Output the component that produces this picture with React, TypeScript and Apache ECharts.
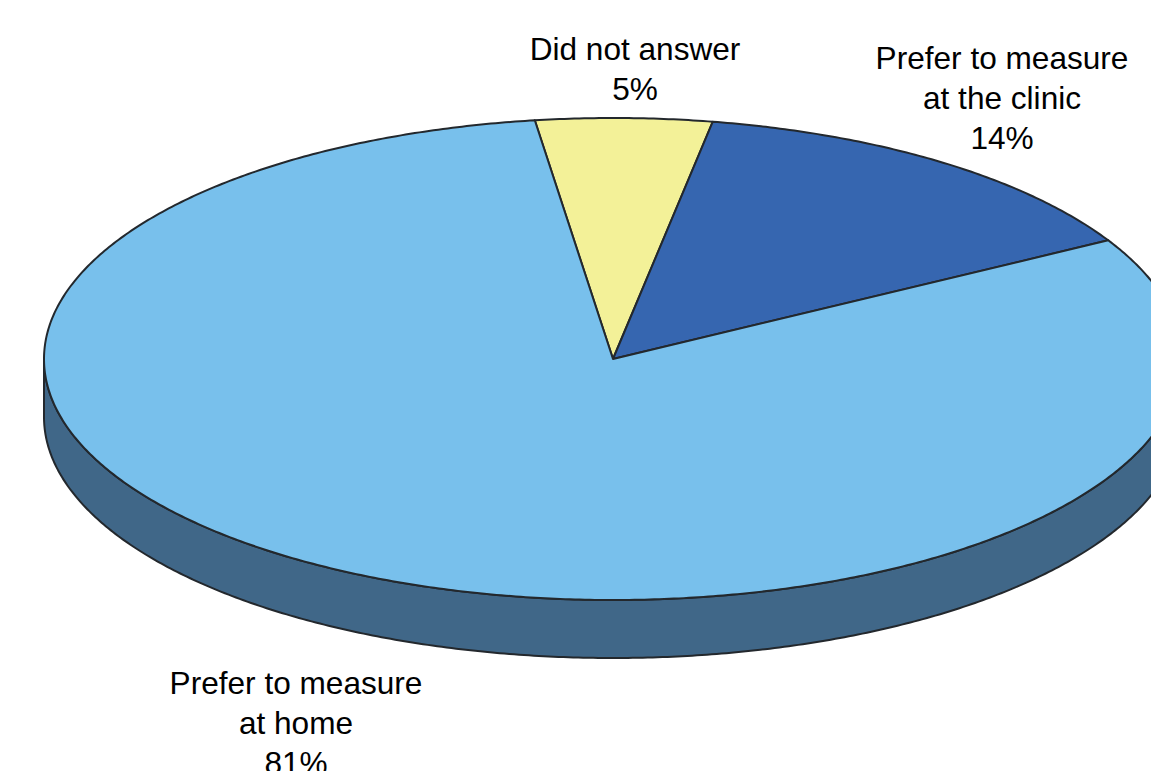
import React, { useEffect, useRef } from "react";
import * as echarts from "echarts";

const categories = ["Did not answer", "Prefer to measure at the clinic", "Prefer to measure at home"];
const sliceValues = [5, 14, 81];
const sliceColors = ["#f3f198", "#3666b0", "#78c0ec"];
const wallColor = "#406788";
const outlineColor = "#23282d";
const labelLines = ["Did not answer\n5%", "Prefer to measure\nat the clinic\n14%", "Prefer to measure\nat home\n81%"];
const labelCenters = [[635, 28.5], [1002, 37.5], [296, 662.5]];

const CX = 613;
const CY = 359;
const RX = 569;
const RY = 241;
const DEPTH = 58;
const START_DEG = -7.9;
const TOTAL = sliceValues.reduce((a, b) => a + b, 0);

const pointAt = (deg: number, dy = 0): number[] => {
  const r = (deg * Math.PI) / 180;
  return [CX + RX * Math.sin(r), CY - RY * Math.cos(r) + dy];
};

const arcPoints = (from: number, to: number, dy = 0): number[][] => {
  const n = Math.max(2, Math.ceil(Math.abs(to - from) * 2));
  const pts: number[][] = [];
  for (let i = 0; i <= n; i++) pts.push(pointAt(from + ((to - from) * i) / n, dy));
  return pts;
};

const sliceRange = (index: number): [number, number] => {
  const before = sliceValues.slice(0, index).reduce((a, b) => a + b, 0);
  const from = START_DEG + (before / TOTAL) * 360;
  return [from, from + (sliceValues[index] / TOTAL) * 360];
};

export default function App() {
  const ref = useRef<HTMLDivElement>(null);
  useEffect(() => {
    document.body.style.margin = "0";
    document.body.style.overflow = "hidden";
    const chart = echarts.init(ref.current!, null, { renderer: "svg" });
    const seriesData = sliceValues.map((value, i) => ({ value: [i, value], name: categories[i] }));
    chart.setOption({
      animation: false,
      backgroundColor: "#ffffff",
      tooltip: { show: false },
      series: [
        {
          type: "custom",
          coordinateSystem: "none",
          silent: true,
          clip: false,
          data: seriesData,
          renderItem: (params: any, api: any) => {
            const [from, to] = sliceRange(api.value(0));
            // the visible wall is the part of the rim on the front half (90..270 deg)
            const segments: [number, number][] = [];
            for (const k of [0, 360]) {
              const a = Math.max(from, 90 + k);
              const b = Math.min(to, 270 + k);
              if (b > a) segments.push([a, b]);
            }
            return {
              type: "group",
              children: segments.map(([a, b]) => ({
                type: "polygon",
                shape: { points: [...arcPoints(a, b, 0), ...arcPoints(b, a, DEPTH)] },
                style: { fill: wallColor, stroke: outlineColor, lineWidth: 2, lineJoin: "round" },
              })),
            };
          },
        },
        {
          type: "custom",
          coordinateSystem: "none",
          silent: true,
          clip: false,
          data: seriesData,
          renderItem: (params: any, api: any) => {
            const i = api.value(0);
            const [from, to] = sliceRange(i);
            return {
              type: "polygon",
              shape: { points: [[CX, CY], ...arcPoints(from, to)] },
              style: { fill: sliceColors[i], stroke: outlineColor, lineWidth: 2, lineJoin: "round" },
            };
          },
        },
      ],
      graphic: labelLines.map((text, i) => ({
        type: "text",
        x: labelCenters[i][0],
        y: labelCenters[i][1],
        z: 10,
        style: {
          text,
          fill: "#000000",
          font: '31.6px "Liberation Sans", Arial, sans-serif',
          lineHeight: 40,
          align: "center",
          verticalAlign: "top",
        },
      })),
    });
    return () => chart.dispose();
  }, []);
  return <div ref={ref} style={{ width: 1151, height: 771 }} />;
}
